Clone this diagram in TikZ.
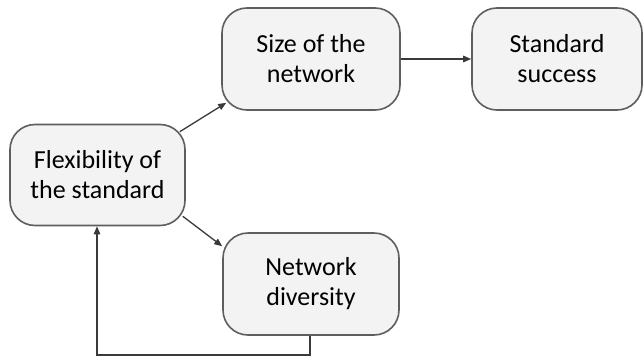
\documentclass[tikz,border=0pt]{standalone}
\usepackage{fontspec}
\setmainfont{Carlito}
\usetikzlibrary{arrows.meta}
\definecolor{boxline}{HTML}{5E5E5E}
\definecolor{boxfill}{HTML}{F3F3F3}
\definecolor{arrline}{HTML}{3A3A3A}
\tikzset{
  box/.style={draw=boxline, line width=1.6pt, fill=boxfill, rounded corners=25pt,
    align=center, inner sep=0pt, text=black,
    font=\fontsize{26}{30}\selectfont},
  conn/.style={draw=arrline, line width=1.3pt, -{Triangle[length=8pt,width=6.5pt]}}
}
\begin{document}
\begin{tikzpicture}[x=1pt,y=1pt]
\useasboundingbox[fill=white] (0,0) rectangle (644,360);
\node[box, minimum width=175pt, minimum height=101pt] (flex) at (97.5,185) {Flexibility of\\the standard};
\node[box, minimum width=178pt, minimum height=102pt] (size) at (311,301) {Size of the\\network};
\node[box, minimum width=170pt, minimum height=102pt] (succ) at (557,301) {Standard\\success};
\node[box, minimum width=176pt, minimum height=102pt] (div) at (311,76) {Network\\diversity};
\coordinate (c1) at (310,5);
\coordinate (c2) at (97,5);
\draw[conn] ([shift={(-6pt,-8pt)}]flex.north east) -- ([shift={(5pt,8pt)}]size.south west);
\draw[conn] ([shift={(-3pt,10pt)}]flex.south east) -- ([shift={(0pt,-14pt)}]div.north west);
\draw[conn] (size.east) -- (succ.west);
\draw[conn] (div.south -| c1) -- (c1) -- (c2) -- (flex.south -| c2);
\end{tikzpicture}
\end{document}
